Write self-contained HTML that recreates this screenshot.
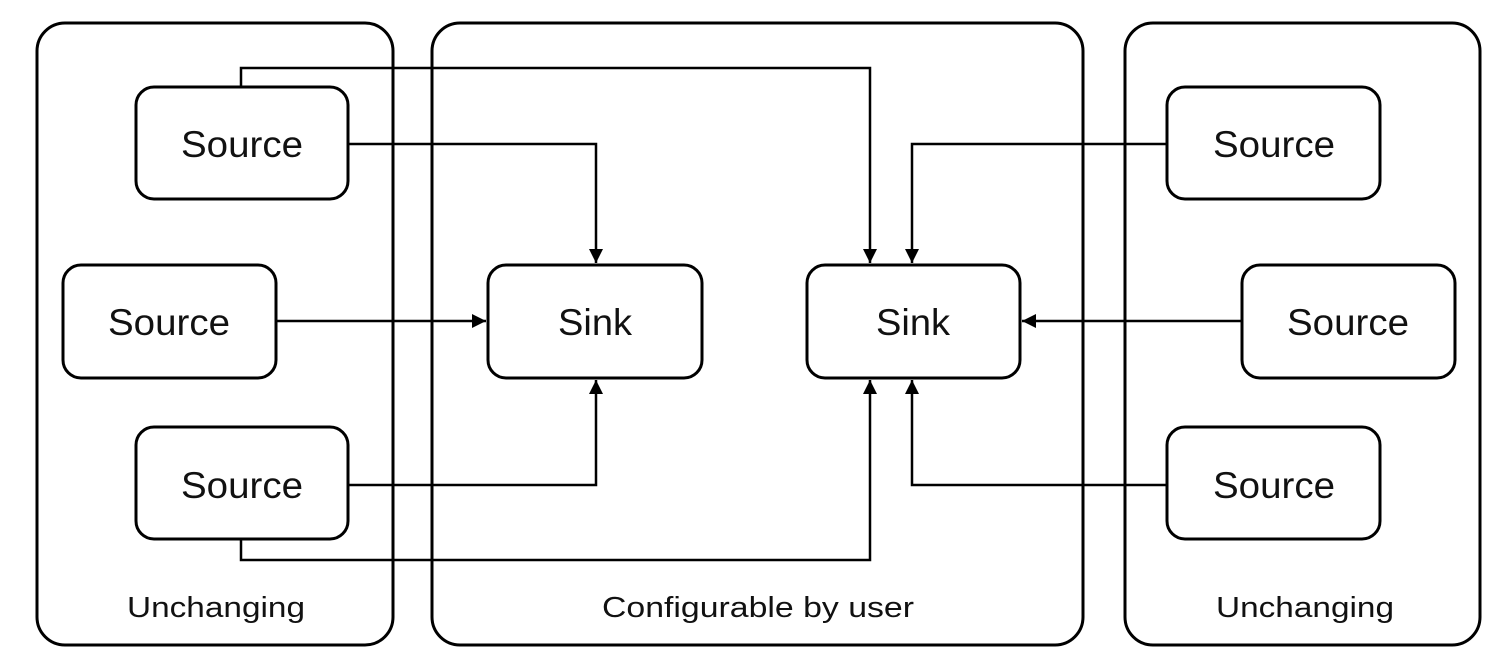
<!DOCTYPE html>
<html><head><style>body{margin:0;background:#fff}svg{display:block}text{font-family:"Liberation Sans",sans-serif;fill:#111}</style></head>
<body>
<svg width="1501" height="655" viewBox="0 0 1501 655">
<defs><marker id="a" viewBox="0 0 10 10" refX="10" refY="5" markerWidth="22" markerHeight="14" markerUnits="userSpaceOnUse" orient="auto"><path d="M0,0L10,5L0,10z" fill="#000"/></marker></defs>
<g fill="none" stroke="#000" stroke-width="3">
<rect x="37" y="23" width="356" height="622" rx="28"/>
<rect x="432" y="23" width="651" height="622" rx="28"/>
<rect x="1125" y="23" width="355" height="622" rx="28"/>
<rect x="136" y="87" width="212" height="112" rx="18"/>
<rect x="63" y="265" width="213" height="113" rx="18"/>
<rect x="136" y="427" width="212" height="112" rx="18"/>
<rect x="488" y="265" width="214" height="113" rx="18"/>
<rect x="807" y="265" width="213" height="113" rx="18"/>
<rect x="1167" y="87" width="213" height="112" rx="18"/>
<rect x="1242" y="265" width="213" height="113" rx="18"/>
<rect x="1167" y="427" width="213" height="112" rx="18"/>
<g stroke-width="2.5">
<path d="M241,87V68H870V263" marker-end="url(#a)"/>
<path d="M348,144H596V263" marker-end="url(#a)"/>
<path d="M276,321H486" marker-end="url(#a)"/>
<path d="M348,485H596V380" marker-end="url(#a)"/>
<path d="M241,539V560H870V380" marker-end="url(#a)"/>
<path d="M1167,144H912V263" marker-end="url(#a)"/>
<path d="M1242,321H1022" marker-end="url(#a)"/>
<path d="M1167,485H912V380" marker-end="url(#a)"/>
</g></g>
<g font-size="37" text-anchor="middle">
<text x="242" y="157" textLength="122" lengthAdjust="spacingAndGlyphs">Source</text>
<text x="169" y="335" textLength="122" lengthAdjust="spacingAndGlyphs">Source</text>
<text x="242" y="498" textLength="122" lengthAdjust="spacingAndGlyphs">Source</text>
<text x="595" y="335" textLength="74" lengthAdjust="spacingAndGlyphs">Sink</text>
<text x="913" y="335" textLength="74" lengthAdjust="spacingAndGlyphs">Sink</text>
<text x="1274" y="157" textLength="122" lengthAdjust="spacingAndGlyphs">Source</text>
<text x="1348" y="335" textLength="122" lengthAdjust="spacingAndGlyphs">Source</text>
<text x="1274" y="498" textLength="122" lengthAdjust="spacingAndGlyphs">Source</text>
</g>
<g font-size="29" text-anchor="middle">
<text x="216" y="617" textLength="178" lengthAdjust="spacingAndGlyphs">Unchanging</text>
<text x="758" y="617" textLength="312" lengthAdjust="spacingAndGlyphs">Configurable by user</text>
<text x="1305" y="617" textLength="178" lengthAdjust="spacingAndGlyphs">Unchanging</text>
</g>
</svg>
</body></html>
